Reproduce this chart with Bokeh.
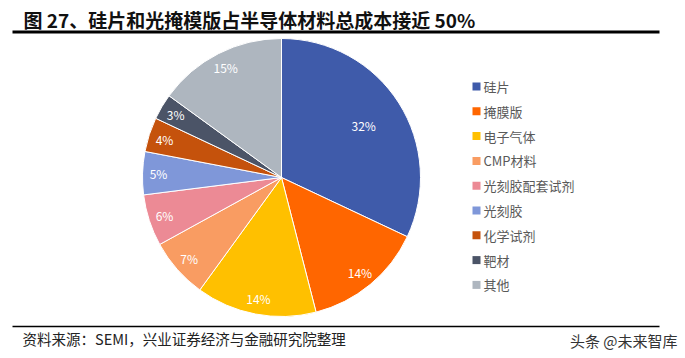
import math
from bokeh.plotting import figure
from bokeh.models import Range1d, ColumnDataSource
from bokeh.core.properties import value
from bokeh.embed import file_html
from bokeh.resources import INLINE

# ---- data ----
categories = ["硅片", "掩膜版", "电子气体", "CMP材料", "光刻胶配套试剂", "光刻胶", "化学试剂", "靶材", "其他"]
shares = [32, 14, 14, 7, 6, 5, 4, 3, 15]
colors = ["#3F5BAA", "#FF6600", "#FFC000", "#F99C62", "#EC8A95", "#7F97D9", "#C5520C", "#4B5467", "#AEB6BF"]
title_text = "图 27、硅片和光掩模版占半导体材料总成本接近 50%"
source_text = "资料来源：SEMI，兴业证券经济与金融研究院整理"
watermark_text = "头条 @未来智库"

FONT = "Noto Sans CJK SC"
W, H = 685, 358

def Y(py):
    return H - py

p = figure(width=W, height=H, output_backend="svg", toolbar_location=None,
           x_range=Range1d(0, W), y_range=Range1d(0, H), min_border=0)
p.axis.visible = False
p.grid.visible = False
p.outline_line_color = None
p.background_fill_color = "white"
p.border_fill_color = "white"

# ---- pie ----
cx, cy, R = 281, Y(177), 139
total = float(sum(shares))
starts, ends, mids = [], [], []
c = 0.0
for s in shares:
    c0 = c / total
    c += s
    c1 = c / total
    starts.append(math.pi / 2 - 2 * math.pi * c0)
    ends.append(math.pi / 2 - 2 * math.pi * c1)
    mids.append(math.pi / 2 - 2 * math.pi * (c0 + c1) / 2)

src = ColumnDataSource(dict(start=starts, end=ends, color=colors, cat=categories))
p.wedge(x=cx, y=cy, radius=R, start_angle="start", end_angle="end", direction="clock",
        fill_color="color", line_color="white", line_width=1, source=src)

lx, ly, lt = [], [], []
for s, m in zip(shares, mids):
    rf = 0.70 if s / total > 0.25 else 0.885
    lx.append(cx + rf * R * math.cos(m))
    ly.append(cy + rf * R * math.sin(m))
    lt.append(f"{s}%")
p.text(x=lx, y=ly, text=lt, text_color="white", text_font=value(FONT),
       text_font_size="12px", text_align="center", text_baseline="middle")

# ---- legend ----
leg_x, leg_y0, leg_dy = 476, 86, 24.8
legy = [Y(leg_y0 + i * leg_dy) for i in range(len(categories))]
p.rect(x=[leg_x] * len(categories), y=legy, width=8, height=8, fill_color=colors, line_color=None)
p.text(x=[leg_x + 7] * len(categories), y=legy, text=categories, text_color="#595959",
       text_font=value(FONT), text_font_size="13px", text_baseline="middle", text_align="left")

# ---- title, rules, footer ----
p.text(x=[23], y=[Y(19)], text=[title_text], text_color="#111111", text_font=value(FONT),
       text_font_size="19px", text_font_style="bold", text_baseline="middle")
p.segment(x0=[12], y0=[Y(31.5)], x1=[659], y1=[Y(31.5)], line_color="black", line_width=3)
p.segment(x0=[12], y0=[Y(326)], x1=[659], y1=[Y(326)], line_color="black", line_width=1.5)
p.text(x=[22], y=[Y(338)], text=[source_text], text_color="#222222", text_font=value(FONT),
       text_font_size="14.5px", text_baseline="middle")
p.text(x=[677], y=[Y(340)], text=[watermark_text], text_color="#333333", text_font=value(FONT),
       text_font_size="15px", text_baseline="middle", text_align="right")

open("out.html", "w").write(file_html(p, INLINE))
